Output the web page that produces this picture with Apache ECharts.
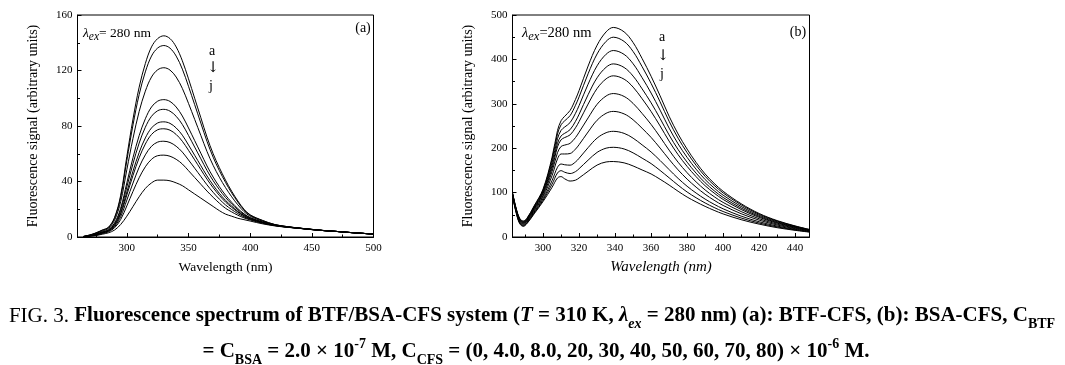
<!DOCTYPE html>
<html><head><meta charset="utf-8">
<script src="https://cdn.jsdelivr.net/npm/echarts@6/dist/echarts.min.js"></script>
<style>html,body{margin:0;padding:0;background:#fff}#c{width:1065px;height:365px}</style>
</head><body><div id="c"></div>
<script>
// ---------- Panel (a): BTF-CFS ----------
const waveA = [265,270,275,280,285,290,295,300,305,310,315,320,325,330,335,340,345,350,355,360,365,370,375,380,385,390,395,400,410,420,430,440,450,460,470,480,490,500];
const specA_a = [0.5,1.5,3,5,7,14,30,58,85,108,125,137,143,145,143,137,127,114,100,86,72,60,50,41,33,26,20,16,12,9,7.5,6.4,5.5,4.7,4,3.3,2.7,2.1];
const specA_b = [0.5,1.4,2.9,4.8,6.7,13.4,28.6,55.1,80.8,102.7,119,130.4,136.2,138,136.1,130.4,121,108.6,95.4,82.1,68.9,57.5,47.9,39.4,31.8,25.2,19.5,15.7,11.8,8.9,7.5,6.4,5.5,4.6,4,3.3,2.7,2.1];
const specA_c = [0.4,1.3,2.6,4.3,6.1,12,25.4,48.5,71.1,90.5,105.1,115.3,120.5,122,120.3,115.3,107.1,96.3,84.8,73.2,61.6,51.6,43.1,35.6,29,23.2,18.3,15,11.4,8.8,7.4,6.4,5.5,4.6,4,3.3,2.7,2.1];
const specA_d = [0.3,1.1,2.1,3.7,5.2,10,20.7,39,57.2,73.1,85.2,93.7,97.9,99,97.7,93.7,87.2,78.6,69.5,60.4,51.2,43.2,36.3,30.2,25,20.5,16.7,14,10.9,8.6,7.3,6.3,5.4,4.6,4,3.3,2.7,2.1];
const specA_e = [0.2,1,2,3.5,5,9.4,19.3,36.1,52.9,67.7,79.1,87,91,92,90.7,87,81.1,73.2,64.8,56.4,48,40.6,34.2,28.5,23.8,19.6,16.2,13.7,10.7,8.5,7.2,6.3,5.4,4.6,4,3.3,2.7,2.1];
const specA_f = [0.2,0.9,1.8,3.2,4.6,8.6,17.5,32.4,47.5,60.9,71.4,78.6,82.2,83,81.9,78.6,73.4,66.3,58.9,51.4,44,37.4,31.5,26.4,22.3,18.5,15.5,13.3,10.5,8.4,7.2,6.3,5.4,4.6,4,3.3,2.7,2.1];
const specA_g = [0.2,0.9,1.7,3.1,4.4,8.2,16.5,30.3,44.4,57.1,67,73.9,77.3,78,77,73.9,69,62.5,55.6,48.6,41.7,35.5,30,25.2,21.4,18,15.2,13.1,10.4,8.4,7.2,6.3,5.4,4.6,4,3.3,2.7,2.1];
const specA_h = [0.1,0.8,1.5,2.8,4.1,7.4,14.6,26.6,38.9,50.3,59.2,65.4,68.4,69,68.1,65.4,61.2,55.5,49.6,43.6,37.6,32.2,27.3,23.1,19.8,16.9,14.5,12.7,10.2,8.3,7.1,6.3,5.4,4.6,4,3.3,2.7,2.1];
const specA_i = [0.1,0.7,1.3,2.5,3.7,6.6,12.6,22.4,32.9,42.7,50.6,56,58.6,59,58.2,56,52.6,47.8,42.9,38,33.1,28.6,24.4,20.7,18.1,15.7,13.8,12.3,9.9,8.2,7.1,6.2,5.3,4.6,4,3.3,2.7,2.1];
const specA_j = [0,0.5,1,2,3,5,9,15,22,29,35,39,41,41,40.5,39,37,34,31,28,25,22,19,16.5,15,13.5,12.5,11.5,9.5,8,7,6.2,5.3,4.6,4,3.3,2.7,2.1];

// ---------- Panel (b): BSA-CFS ----------
const waveB = [283,285,287,289,291,295,300,305,308,310,312,315,318,320,325,330,335,339,345,350,355,360,365,370,375,380,385,390,395,400,410,420,430,440,448];
const specB_a = [100,65,42,36,42,70,108,180,240,262,272,285,310,330,385,432,462,472,462,438,402,362,318,272,232,198,168,142,121,103,75,53,37,25,17];
const specB_b = [99.4,64.3,41.1,35.1,41.1,68.7,106,175,232.2,252.8,261.7,273.4,296.7,315.6,367.7,412.3,440.6,450,440.5,417.7,383.7,345.9,304.3,260.7,222.6,190.1,161.5,136.7,116.5,99.3,72.4,51.2,35.8,24.3,16.6];
const specB_c = [98.6,63.3,39.9,33.9,39.9,66.9,103.2,168.3,221.6,240.3,247.7,257.7,278.7,296.1,344.2,385.6,411.6,420,411.3,390.2,358.8,324.2,285.7,245.3,209.8,179.4,152.7,129.4,110.5,94.2,68.8,48.9,34.2,23.3,16];
const specB_d = [97.8,62.3,38.7,32.7,38.7,65.1,100.4,161.5,210.9,227.7,233.6,241.8,260.5,276.4,320.5,358.6,382.3,389.9,381.8,362.4,333.7,302.2,266.9,229.8,196.9,168.6,143.8,122.1,104.4,89.1,65.2,46.5,32.6,22.3,15.4];
const specB_e = [97.1,61.4,37.7,31.7,37.7,63.5,97.9,155.5,203,219,224,230,246,260,299.4,334.5,356.2,363,355.5,337.6,311.4,282.6,250.1,216,185.4,159,135.9,115.6,99,84.6,62,44.3,31.2,21.4,14.8];
const specB_f = [96.1,60.1,36.1,30.1,36.1,61.1,94.2,148,190,204,207,211,224,236,268.2,298.9,317.6,323.1,316.6,300.9,278.3,253.5,225.3,195.6,168.4,144.8,124.1,106,90.9,77.9,57.3,41.2,29.1,20.1,14];
const specB_g = [95,58.7,34.5,28.5,34.5,58.7,90.5,138.5,176,187,187,188,198,208,236.6,263,278.6,282.9,277.3,264,244.9,224.3,200.3,175,151.2,130.4,112.3,96.3,82.8,71.1,52.5,38,27,18.7,13.2];
const specB_h = [93.8,57.3,32.7,26.7,32.7,56.1,86.3,127.3,157.1,164.4,162.7,161.8,169,177.3,201.3,222.8,234.9,238,233.4,222.6,207.5,191.5,172.3,151.9,132,114.3,99,85.4,73.7,63.5,47.1,34.4,24.6,17.3,12.4];
const specB_i = [92.8,56.1,31.3,25.3,31.3,53.9,83,119.2,144.3,149.4,145.9,142.9,147.3,153.9,173.1,190.6,200.1,202,198.3,189.5,177.6,165.3,149.9,133.4,116.7,101.4,88.4,76.7,66.5,57.4,42.8,31.5,22.7,16.1,11.6];
const specB_j = [92,55,30,24,30,52,80,112,133,136,131,126,128,133,148,162,169,170,167,160,151,142,130,117,103,90,79,69,60,52,39,29,21,15,11];

const curveNames = ['a','b','c','d','e','f','g','h','i','j'];
const specsA = [specA_a,specA_b,specA_c,specA_d,specA_e,specA_f,specA_g,specA_h,specA_i,specA_j];
const specsB = [specB_a,specB_b,specB_c,specB_d,specB_e,specB_f,specB_g,specB_h,specB_i,specB_j];

// tick labels
const xTicksA = [300,350,400,450,500];
const xMinorA = [275,325,375,425,475];
const xTicksB = [300,320,340,360,380,400,420,440];
const xMinorB = [290,310,330,350,370,390,410,430];

const SERIF = 'Liberation Serif, Times New Roman, serif';
const BLACK = '#000';

function majorX(grid, min, max, ticks, name, italic, nameSize) {
  return {
    gridIndex: grid, type: 'value', min: min, max: max,
    axisLine: {show: true, onZero: false, lineStyle: {color: BLACK, width: 1}},
    axisTick: {show: true, inside: true, length: 4, customValues: ticks, lineStyle: {color: BLACK}},
    axisLabel: {show: true, customValues: ticks, color: BLACK, fontFamily: SERIF, fontSize: 11, margin: 6},
    splitLine: {show: false},
    name: name, nameLocation: 'middle', nameGap: 23,
    nameTextStyle: {color: BLACK, fontFamily: SERIF, fontSize: nameSize, fontStyle: italic ? 'italic' : 'normal'}
  };
}
function minorX(grid, min, max, ticks) {
  return {
    gridIndex: grid, type: 'value', min: min, max: max, position: 'bottom',
    axisLine: {show: false},
    axisTick: {show: true, inside: true, length: 2.5, customValues: ticks, lineStyle: {color: BLACK}},
    axisLabel: {show: false},
    splitLine: {show: false}
  };
}
function yAx(grid, max, interval, gap) {
  return {
    gridIndex: grid, type: 'value', min: 0, max: max, interval: interval,
    axisLine: {show: true, onZero: false, lineStyle: {color: BLACK, width: 1}},
    axisTick: {show: true, inside: true, length: 4, lineStyle: {color: BLACK}},
    minorTick: {show: true, splitNumber: 2, length: 2.5, lineStyle: {color: BLACK}},
    axisLabel: {color: BLACK, fontFamily: SERIF, fontSize: 11, margin: 5},
    splitLine: {show: false}, minorSplitLine: {show: false},
    name: 'Fluorescence signal (arbitrary units)', nameLocation: 'middle', nameGap: gap, nameRotate: 90,
    nameTextStyle: {color: BLACK, fontFamily: SERIF, fontSize: 14}
  };
}

const series = [];
curveNames.forEach((nm, k) => {
  series.push({
    name: 'A-' + nm, type: 'line', xAxisIndex: 0, yAxisIndex: 0,
    data: waveA.map((w, i) => [w, specsA[k][i]]),
    showSymbol: false, smooth: 0.35, lineStyle: {color: BLACK, width: 1}, silent: true
  });
  series.push({
    name: 'B-' + nm, type: 'line', xAxisIndex: 2, yAxisIndex: 1,
    data: waveB.map((w, i) => [w, specsB[k][i]]),
    showSymbol: false, smooth: 0.35, lineStyle: {color: BLACK, width: 1}, silent: true
  });
});

const lblFont = {fontFamily: SERIF, fontSize: 14, fill: BLACK};
const arrowFont = {fontFamily: 'DejaVu Serif, serif', fontSize: 15, fill: BLACK};
function richLambda(sz) {
  return {
    i: {fontFamily: SERIF, fontSize: sz, fontStyle: 'italic', lineHeight: 20, verticalAlign: 'middle'},
    isub: {fontFamily: SERIF, fontSize: sz - 2, fontStyle: 'italic', lineHeight: 12, verticalAlign: 'bottom'},
    n: {fontFamily: SERIF, fontSize: sz, lineHeight: 20, verticalAlign: 'middle'}
  };
}
const capBase = {fontFamily: SERIF, fontSize: 21, lineHeight: 30, fontWeight: 'bold', verticalAlign: 'middle'};
const richCap = {
  r: {fontFamily: SERIF, fontSize: 21, lineHeight: 30, fontWeight: 'normal', verticalAlign: 'middle'},
  b: capBase,
  bi: Object.assign({}, capBase, {fontStyle: 'italic'}),
  bsub: {fontFamily: SERIF, fontSize: 14, lineHeight: 17, fontWeight: 'bold', verticalAlign: 'bottom'},
  bisub: {fontFamily: SERIF, fontSize: 14, lineHeight: 17, fontWeight: 'bold', fontStyle: 'italic', verticalAlign: 'bottom'},
  bsup: {fontFamily: SERIF, fontSize: 14, lineHeight: 17, fontWeight: 'bold', verticalAlign: 'top'}
};

const option = {
  animation: false,
  backgroundColor: '#fff',
  grid: [
    {left: 77.5, top: 15, width: 296, height: 222, show: true, borderColor: BLACK, borderWidth: 1, backgroundColor: 'transparent', containLabel: false, outerBoundsMode: 'none'},
    {left: 512.5, top: 15, width: 297, height: 222, show: true, borderColor: BLACK, borderWidth: 1, backgroundColor: 'transparent', containLabel: false, outerBoundsMode: 'none'}
  ],
  xAxis: [
    majorX(0, 260, 500, xTicksA, 'Wavelength (nm)', false, 13.5),
    minorX(0, 260, 500, xMinorA),
    majorX(1, 283, 448, xTicksB, 'Wavelength (nm)', true, 15),
    minorX(1, 283, 448, xMinorB)
  ],
  yAxis: [ yAx(0, 160, 40, 37), yAx(1, 500, 100, 37) ],
  series: series,
  graphic: [
    {type: 'text', x: 83, y: 33, style: {text: '{i|λ}{isub|ex}{n|= 280 nm}', rich: richLambda(13.5), textAlign: 'left', textVerticalAlign: 'middle', fill: BLACK}},
    {type: 'text', x: 363, y: 28, style: Object.assign({text: '(a)', textAlign: 'center', textVerticalAlign: 'middle'}, lblFont)},
    {type: 'text', x: 212, y: 51, style: Object.assign({text: 'a', textAlign: 'center', textVerticalAlign: 'middle'}, lblFont)},
    {type: 'text', x: 213, y: 68, style: Object.assign({text: '↓', textAlign: 'center', textVerticalAlign: 'middle'}, arrowFont)},
    {type: 'text', x: 211, y: 86, style: Object.assign({text: 'j', textAlign: 'center', textVerticalAlign: 'middle'}, lblFont)},

    {type: 'text', x: 522, y: 33, style: {text: '{i|λ}{isub|ex}{n|=280 nm}', rich: richLambda(14.5), textAlign: 'left', textVerticalAlign: 'middle', fill: BLACK}},
    {type: 'text', x: 798, y: 32, style: Object.assign({text: '(b)', textAlign: 'center', textVerticalAlign: 'middle'}, lblFont)},
    {type: 'text', x: 662, y: 37, style: Object.assign({text: 'a', textAlign: 'center', textVerticalAlign: 'middle'}, lblFont)},
    {type: 'text', x: 663, y: 56, style: Object.assign({text: '↓', textAlign: 'center', textVerticalAlign: 'middle'}, arrowFont)},
    {type: 'text', x: 662, y: 74, style: Object.assign({text: 'j', textAlign: 'center', textVerticalAlign: 'middle'}, lblFont)},

    {type: 'text', x: 532, y: 316, style: {
      text: '{r|FIG. 3. }{b|Fluorescence spectrum of BTF/BSA-CFS system (}{bi|T}{b| = 310 K, }{bi|λ}{bisub|ex}{b| = 280 nm) (a): BTF-CFS, (b): BSA-CFS, C}{bsub|BTF}',
      rich: richCap, textAlign: 'center', textVerticalAlign: 'middle', fill: BLACK}},
    {type: 'text', x: 536, y: 352, style: {
      text: '{b|= C}{bsub|BSA}{b| = 2.0 × 10}{bsup|-7}{b| M, C}{bsub|CFS}{b| = (0, 4.0, 8.0, 20, 30, 40, 50, 60, 70, 80) × 10}{bsup|-6}{b| M.}',
      rich: richCap, textAlign: 'center', textVerticalAlign: 'middle', fill: BLACK}}
  ]
};

const chart = echarts.init(document.getElementById('c'), null, {renderer: 'canvas'});
chart.setOption(option);
</script>
</body></html>
